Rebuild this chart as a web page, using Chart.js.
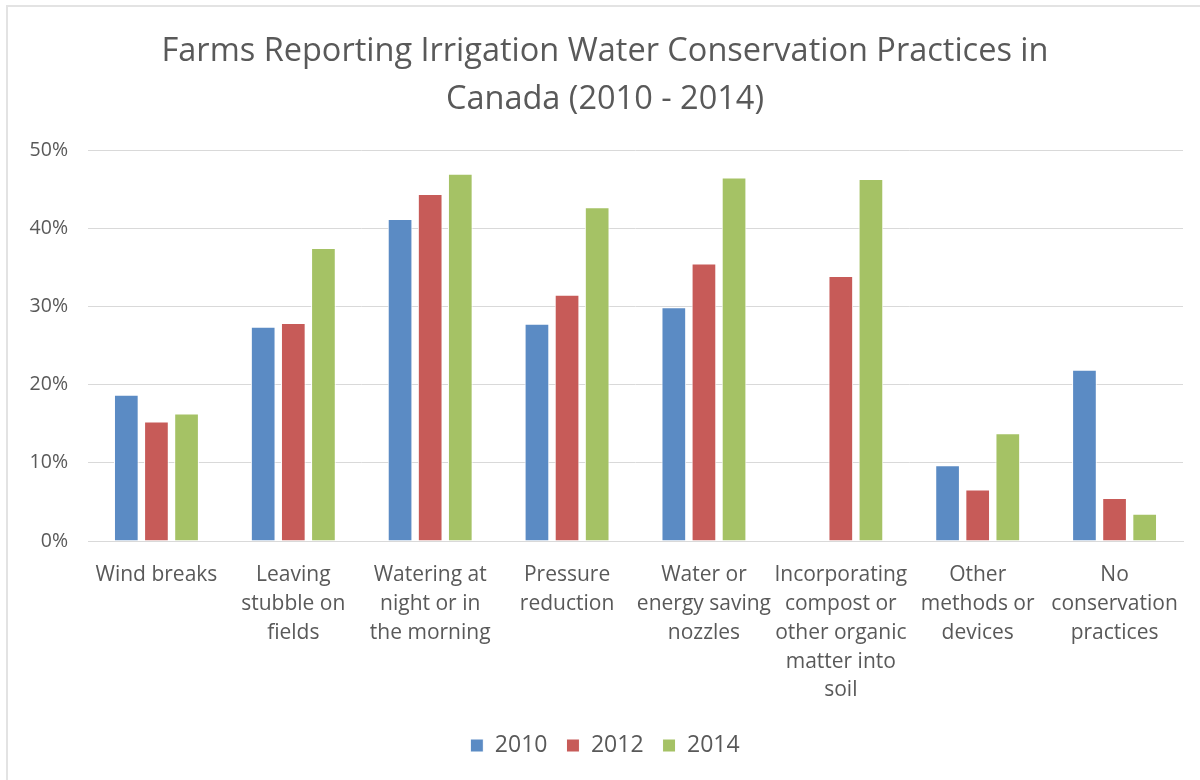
<!DOCTYPE html>
<html>
<head>
<meta charset="utf-8">
<script src="https://cdn.jsdelivr.net/npm/chart.js@4/dist/chart.umd.min.js"></script>
<style>
  html, body { margin: 0; padding: 0; background: #ffffff; }
  #wrap { position: relative; width: 1200px; height: 780px; }
  #frame {
    position: absolute; left: 6px; top: 5px; right: 0; bottom: 0;
    border-top: 2px solid #e3e3e3; border-left: 2px solid #e3e3e3;
    pointer-events: none;
  }
  canvas { position: absolute; left: 0; top: 0; }
</style>
</head>
<body>
<div id="wrap">
  <canvas id="chart" width="1200" height="780"></canvas>
  <div id="frame"></div>
</div>
<script>
// Practice categories, wrapped into label lines
const categories = [
  ["Wind breaks"],
  ["Leaving", "stubble on", "fields"],
  ["Watering at", "night or in", "the morning"],
  ["Pressure", "reduction"],
  ["Water or", "energy saving", "nozzles"],
  ["Incorporating", "compost or", "other organic", "matter into", "soil"],
  ["Other", "methods or", "devices"],
  ["No", "conservation", "practices"]
];

// Share of farms (%) reporting each practice
const values2010 = [18.7, 27.4, 41.2, 27.8, 29.9, null, 9.7, 21.9];
const values2012 = [15.3, 27.9, 44.4, 31.5, 35.5, 33.9, 6.6, 5.5];
const values2014 = [16.3, 37.5, 47.0, 42.7, 46.5, 46.3, 13.8, 3.5];

const seriesNames = ["2010", "2012", "2014"];
const yTicks = [0, 10, 20, 30, 40, 50];

const textColor = "#595959";
const gridColor = "#d9d9d9";
const fontFamily = "'Open Sans', 'Noto Sans', sans-serif";

new Chart(document.getElementById("chart"), {
  type: "bar",
  data: {
    labels: categories,
    datasets: [
      { label: seriesNames[0], data: values2010, backgroundColor: "#5b8bc4", borderColor: "#ffffff", borderWidth: 1 },
      { label: seriesNames[1], data: values2012, backgroundColor: "#c75b58", borderColor: "#ffffff", borderWidth: 1 },
      { label: seriesNames[2], data: values2014, backgroundColor: "#a5c265", borderColor: "#ffffff", borderWidth: 1 }
    ]
  },
  options: {
    responsive: false,
    animation: false,
    devicePixelRatio: 1,
    layout: { padding: { left: 27, right: 17, top: 0, bottom: 13 } },
    datasets: { bar: { categoryPercentage: 0.66, barPercentage: 0.82 } },
    plugins: {
      title: {
        display: true,
        text: ["Farms Reporting Irrigation Water Conservation Practices in", "Canada (2010 - 2014)"],
        color: textColor,
        font: { family: fontFamily, size: 32.5, weight: "normal", lineHeight: 1.48 },
        padding: { top: 28, bottom: 26 }
      },
      legend: {
        position: "bottom",
        labels: {
          color: textColor,
          font: { family: fontFamily, size: 23 },
          boxWidth: 13,
          boxHeight: 13,
          padding: 19
        }
      },
      tooltip: { enabled: false }
    },
    scales: {
      x: {
        grid: { display: false },
        border: { display: true, color: gridColor, width: 1 },
        ticks: {
          color: textColor,
          font: { family: fontFamily, size: 21, lineHeight: 1.37 },
          maxRotation: 0,
          autoSkip: false,
          padding: 12
        },
        afterFit: (scale) => { scale.height = 174; }
      },
      y: {
        min: 0,
        max: 50,
        afterBuildTicks: (scale) => { scale.ticks = yTicks.map(v => ({ value: v })); },
        grid: { color: gridColor, drawTicks: false, lineWidth: 1 },
        border: { display: false },
        ticks: {
          color: textColor,
          font: { family: fontFamily, size: 19.5 },
          padding: 20,
          callback: (v) => v + "%"
        },
        afterFit: (scale) => { scale.width = 61; }
      }
    }
  }
});
</script>
</body>
</html>
